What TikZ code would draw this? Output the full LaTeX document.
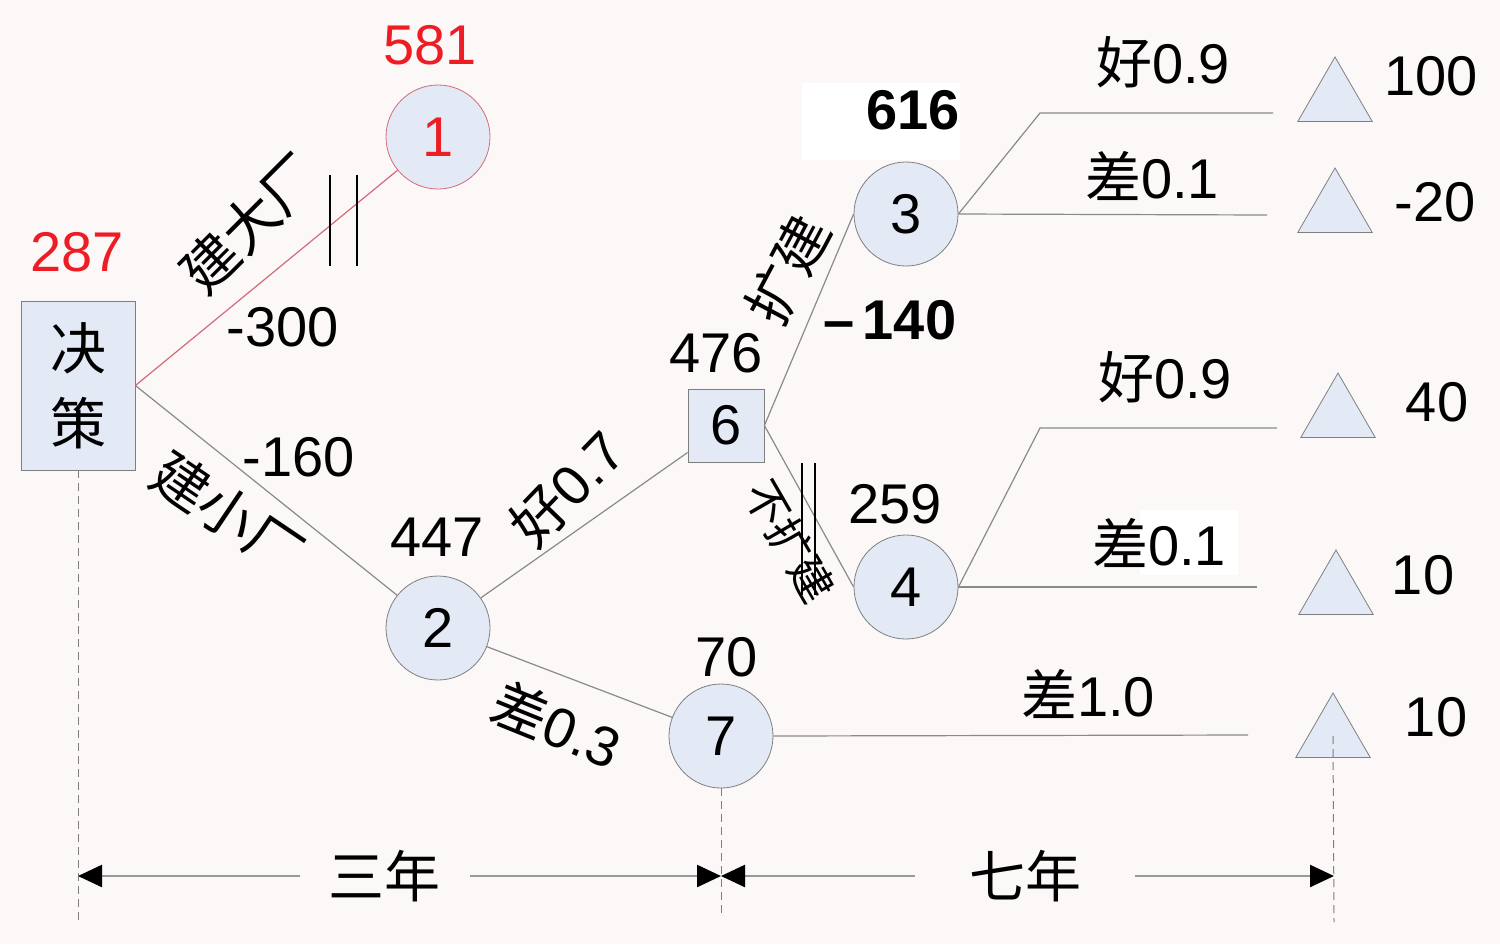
\documentclass[tikz,border=0pt]{standalone}
\usepackage{fontspec}
\setmainfont{Liberation Sans}
\newfontfamily\cjk{Noto Sans CJK SC}
\usetikzlibrary{%
        arrows.meta,
        shapes.geometric,
        positioning,
    }
\definecolor{paper}{HTML}{FBF8F7}
\definecolor{cell}{HTML}{E3EAF6}
\definecolor{rim}{HTML}{7F7F7F}
\definecolor{branch}{HTML}{8A8A8A}
\definecolor{alert}{HTML}{EE1C25}
\definecolor{alertrim}{HTML}{D36B79}
\tikzset{%
    big/.style={font=\fontsize{28}{34}\selectfont},
    chance/.style={%
        draw=rim,
        fill=cell,
        circle,
        minimum size=52pt,
        inner sep=0pt,
        big,
    },
    choice/.style={draw=rim, fill=cell, rectangle, inner sep=0pt, big},
    leaf/.style={%
        draw=rim,
        fill=cell,
        regular polygon,
        regular polygon sides=3,
        minimum size=43pt,
        inner sep=0pt,
    },
    branch/.style={draw=branch, line width=0.6pt},
    cut/.style={draw=black, line width=0.9pt},
    guide/.style={draw=rim, line width=0.5pt, dash pattern=on 4pt off 2.5pt},
    span/.style={%
        draw=gray!80,
        line width=1.2pt,
        {Triangle[length=12pt, width=11pt, color=black]}-%
        {Triangle[length=12pt, width=11pt, color=black]},
    },
}

\begin{document}
\begin{tikzpicture}[x=0.5pt, y=-0.5pt]

    \useasboundingbox (0, 0) rectangle (1500, 944);
    \fill[paper] (0, 0) rectangle (1500, 944);

    %%%%%%%%%
    % Nodes %
    %%%%%%%%%
    \node[%
        choice,
        minimum width=57pt,
        minimum height=84.5pt,
        align=center,
        font={\cjk\fontsize{28}{37.5}\selectfont},
    ] (decide) at (78, 385.5) {决\\策};
    \node[big, alert] (val-decide) at (77, 252) {287};

    \node[chance, draw=alertrim, text=alert] (n1) at (438, 137) {1};
    \node[big, alert] (val-n1) at (430, 45) {581};

    \node[chance] (n2) at (438, 628) {2};
    \node[big] (val-n2) at (437, 537) {447};

    \node[choice, minimum width=38pt, minimum height=36.5pt]
        (n6) at (726, 425.5) {6};
    \node[big] (val-n6) at (716, 353) {476};

    \node[chance] (n7) at (721, 736) {7};
    \node[big] (val-n7) at (727, 657) {70};

    \node[chance] (n3) at (906, 214) {3};
    \fill[white] (802, 83) rectangle (960, 160);
    \node[big] (val-n3) at (913, 110) {\textbf{616}};

    \node[chance] (n4) at (906, 587) {4};
    \node[big] (val-n4) at (895, 504) {259};

    % Leaves
    \foreach \i/\tx/\ty/\val/\vx/\vy in {%
        1/1335/100/100/1431/76,
        2/1335/211/-20/1435/202,
        3/1338/416/40/1437/402,
        4/1336/593/10/1423/575,
        5/1333/736/10/1436/717%
    }{%
        \node[leaf] (t\i) at (\tx, \ty) {};
        \node[big] (v\i) at (\vx, \vy) {\val};
    };

    %%%%%%%%%%%%
    % Branches %
    %%%%%%%%%%%%
    \draw[branch, draw=alertrim] (decide.east) -- (n1);
    \draw[branch] (decide.east) -- (n2);
    \draw[branch] (n2) -- (n6);
    \draw[branch] (n2) -- (n7);
    \draw[branch] (n6.east) -- (n3.west);
    \draw[branch] (n6.east) -- (n4.west);

    \coordinate (k1) at (1040, 113);
    \coordinate (e1) at (1273, 113);
    \coordinate (e2) at (1267, 215);
    \coordinate (k3) at (1040, 428);
    \coordinate (e3) at (1277, 428);
    \coordinate (e4) at (1257, 587);
    \coordinate (e5) at (1248, 735);
    \draw[branch] (n3.east) -- (k1) -- (e1);
    \draw[branch] (n3.east) -- (e2);
    \draw[branch] (n4.east) -- (k3) -- (e3);
    \draw[branch] (n4.east) -- (e4);
    \draw[branch] (n7.east) -- (e5);

    % Branch labels
    \node[big, font={\cjk\fontsize{28}{34}\selectfont}, rotate=45]
        (lab-big) at (250, 223) {建大厂};
    \node[big] (cost-big) at (283, 327) {-300};
    \node[big, font={\cjk\fontsize{28}{34}\selectfont}, rotate=-34]
        (lab-small) at (228, 513) {建小厂};
    \node[big] (cost-small) at (299, 457) {-160};
    \node[big, rotate=46] (lab-good) at (567, 488) {{\cjk 好}0.7};
    \node[big, rotate=-22] (lab-bad) at (557, 724) {{\cjk 差}0.3};
    \node[big, font={\cjk\fontsize{28}{34}\selectfont}, rotate=62]
        (lab-ext) at (788, 270) {扩建};
    \node[big] (cost-ext) at (890, 320) {\textbf{–\kern4pt140}};
    \node[font={\cjk\fontsize{22}{26}\selectfont}, rotate=-60]
        (lab-noext) at (790, 541) {不扩建};

    \node[big] (p1) at (1163, 62) {{\cjk 好}0.9};
    \node[big] (p2) at (1152, 176) {{\cjk 差}0.1};
    \node[big] (p3) at (1165, 377) {{\cjk 好}0.9};
    \fill[white] (1140, 510) rectangle (1238, 575);
    \node[big] (p4) at (1159, 543) {{\cjk 差}0.1};
    \node[big] (p5) at (1088, 694) {{\cjk 差}1.0};

    % Pruned branches
    \foreach \x in {330, 357}{%
        \draw[cut] (\x, 175) -- (\x, 266);
    };
    \foreach \x in {802, 815}{%
        \draw[cut] (\x, 463) -- (\x, 595);
    };

    %%%%%%%%%%%%
    % Timeline %
    %%%%%%%%%%%%
    \coordinate (g0) at (78, 920);
    \coordinate (g1) at (721, 918);
    \coordinate (g2) at (1334, 922);
    \draw[guide] (decide.south) -- (g0);
    \draw[guide] (n7.south) -- (g1);
    \draw[guide] (t5.center) -- (g2);

    \coordinate (s0) at (78, 876);
    \coordinate (s1) at (721, 876);
    \coordinate (s2) at (1334, 876);
    \draw[span] (s0) -- (s1)
        node[pos=0.477, fill=paper, inner xsep=14.5pt,
            font={\cjk\fontsize{28}{34}\selectfont}] {三年};
    \draw[span] (s1) -- (s2)
        node[pos=0.496, fill=paper, inner xsep=27pt,
            font={\cjk\fontsize{28}{34}\selectfont}] {七年};

\end{tikzpicture}
\end{document}
